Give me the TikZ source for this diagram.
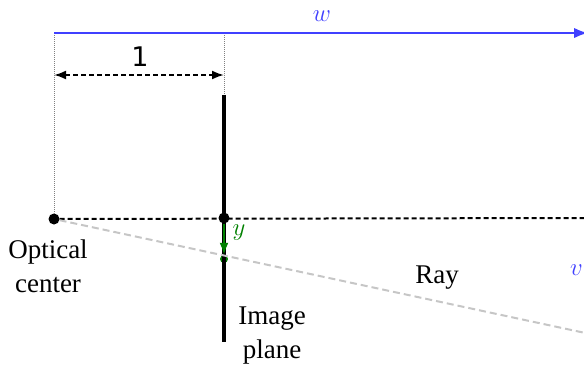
\documentclass[tikz,border=0pt]{standalone}
\usepackage{fontspec}
\setmainfont{Liberation Serif}
\newfontfamily\unitfont{DejaVu Sans}
\usetikzlibrary{arrows.meta,positioning}

\begin{document}
\begin{tikzpicture}[x=1pt,y=-1pt,>=Latex,
  lbl/.style={font=\fontsize{27}{34}\selectfont,align=center},
  guide/.style={densely dotted,gray,line width=1pt},
  dot/.style={circle,fill,inner sep=0pt,minimum size=11pt}]
\useasboundingbox (0,0) rectangle (584,368);
% frame of the axes
\coordinate (top0) at (54,33);
\coordinate (top1) at (224,33);
\coordinate (wend) at (588,33);
\coordinate (ptop) at (224,95);
\coordinate (pbot) at (224,342);
\coordinate (hend) at (590,218);
\coordinate (rend) at (590,334);
\coordinate (d0) at (54,75);
\coordinate (d1) at (224,75);
\node[dot] (oc) at (54,219) {};
\node[dot] (pc) at (224,218) {};
\node[dot,green!50!black,minimum size=8pt] (py) at (224,259) {};
% guides and axes
\draw[guide] (top0) -- (oc);
\draw[guide] (top1) -- (ptop);
\draw[->,blue!75,line width=2.4pt] (top0) -- (wend);
\draw[<->,dash pattern=on 5pt off 3pt,line width=2pt] (d0) -- (d1);
\draw[line width=3.4pt] (ptop) -- (pbot);
\draw[dash pattern=on 5pt off 3pt,line width=2pt] (oc) -- (hend);
\draw[dash pattern=on 7pt off 4pt,gray!45,line width=2pt] (oc) -- (rend);
\draw[->,green!50!black,line width=2pt] (pc) -- (py);
% labels
\node[font=\unitfont\fontsize{27}{30}\selectfont] (one) at (140,57) {1};
\node[blue!75,font=\fontsize{27}{30}\selectfont] (wlab) at (322,16) {$w$};
\node[blue!75,font=\fontsize{27}{30}\selectfont,anchor=west,inner sep=0pt] (vlab) at (570,270) {$v$};
\node[green!50!black,font=\fontsize{26}{30}\selectfont] (ylab) at (239,233) {$y$};
\node[lbl] (optc) at (48,266) {Optical\\center};
\node[lbl] (iplane) at (272,336) {Image\\plane};
\node[lbl] (ray) at (437,278) {Ray};
\end{tikzpicture}
\end{document}
